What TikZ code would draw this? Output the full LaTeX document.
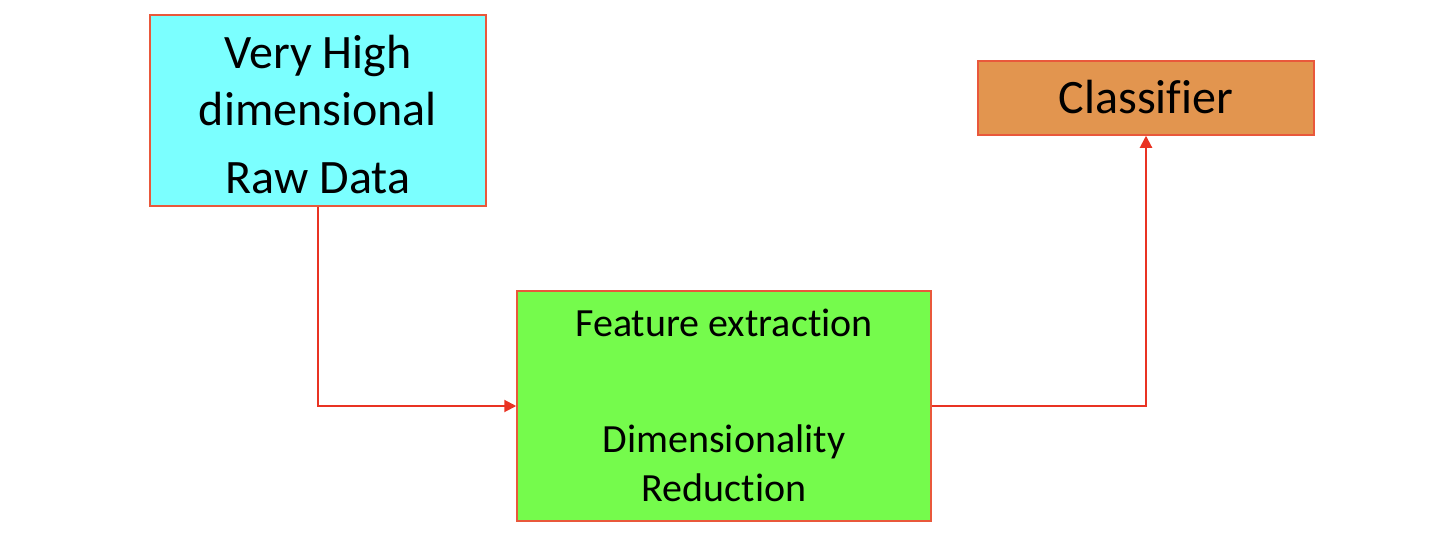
\documentclass[tikz,border=0pt]{standalone}
\usepackage{fontspec}
\setmainfont{Carlito}[Ligatures=NoCommon]
\usetikzlibrary{arrows.meta}
\definecolor{cyanfill}{HTML}{7BFFFF}
\definecolor{greenfill}{HTML}{75FB4C}
\definecolor{orangefill}{HTML}{E2954F}
\definecolor{boxline}{HTML}{E9583B}
\definecolor{arrowred}{HTML}{E93323}
\tikzset{
  box/.style={draw=boxline, line width=1.5pt, rectangle, inner sep=0pt},
  bigtxt/.style={anchor=base, inner sep=0pt, font=\fontsize{48}{57}\selectfont},
  midtxt/.style={anchor=base, inner sep=0pt, font=\fontsize{40}{48}\selectfont},
  conn/.style={draw=arrowred, line width=2pt, -{Triangle[length=12pt,width=12pt]}},
}
\begin{document}
\begin{tikzpicture}[x=1pt,y=-1pt]
\useasboundingbox (0,0) rectangle (1454,538);
% boxes
\node[box, fill=cyanfill, minimum width=336pt, minimum height=191pt] (raw) at (318,110.5) {};
\node[box, fill=greenfill, minimum width=414pt, minimum height=230pt] (feat) at (724,406) {};
\node[box, fill=orangefill, minimum width=336pt, minimum height=74pt] (cls) at (1146,98) {};
% texts
\node[bigtxt] (t1) at (318,68) {Very High};
\node[bigtxt] (t2) at (318,125) {dimensional};
\node[bigtxt] (t3) at (318,193) {Raw Data};
\node[midtxt] (t4) at (724,336) {Feature extraction};
\node[midtxt] (t5) at (724,452) {Dimensionality};
\node[midtxt] (t6) at (724,501) {Reduction};
\node[bigtxt] (t7) at (1146,113) {Classifier};
% connectors
\draw[conn] (raw.south) |- (feat.west);
\draw[conn] (feat.east) -| (cls.south);
\end{tikzpicture}
\end{document}
